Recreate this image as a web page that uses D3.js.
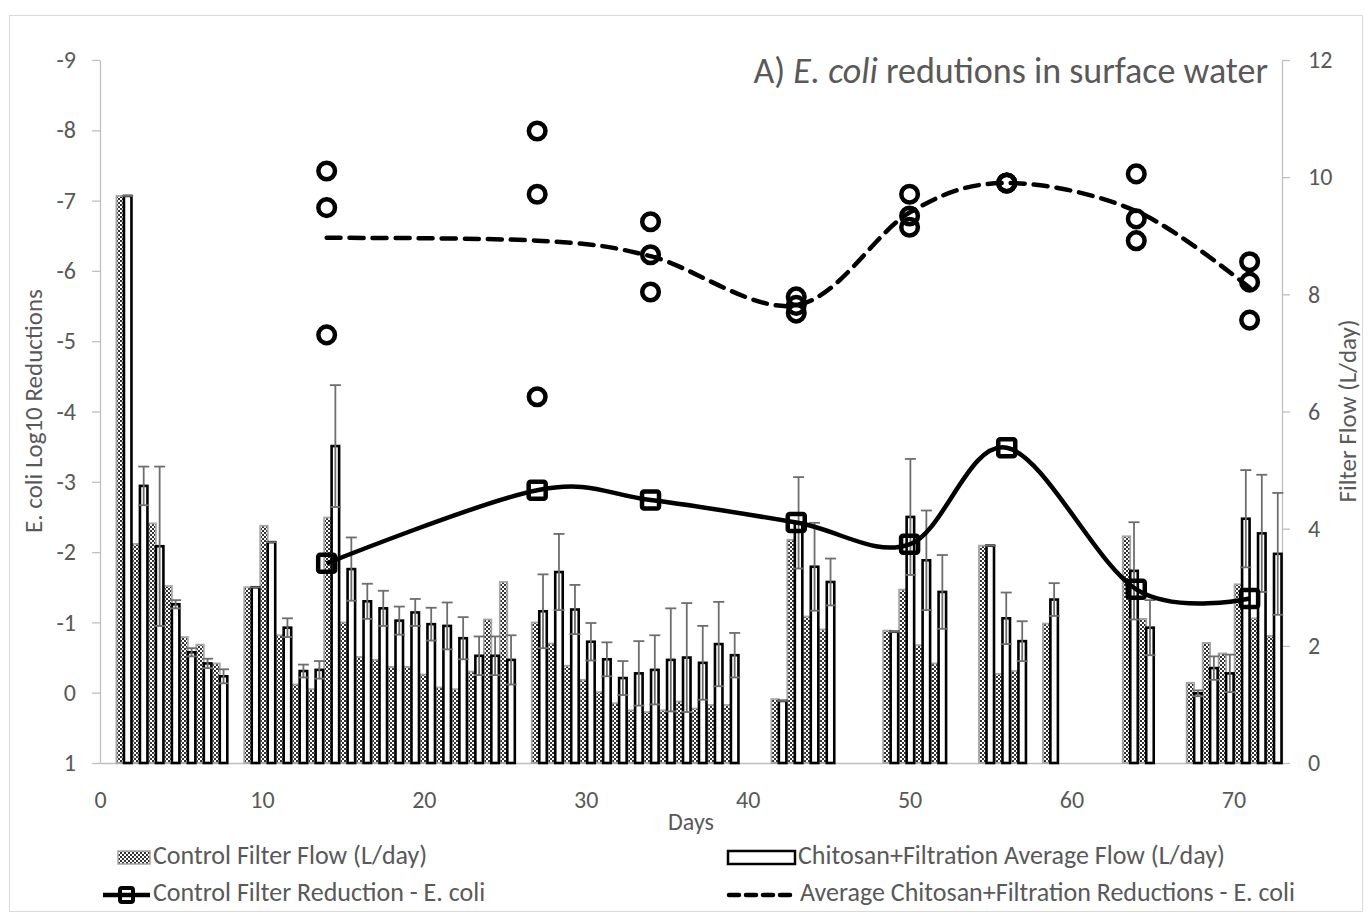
<!DOCTYPE html>
<html><head><meta charset="utf-8">
<script src="https://cdn.jsdelivr.net/npm/d3@7/dist/d3.min.js"></script>
<style>body{margin:0;background:#fff}</style>
</head><body>
<svg id="c" width="1370" height="918"></svg>
<script>
// ---------- data ----------
const barDays      = [1,2,3,4,5,6,7, 9,10,11,12,13,14,15,16,17,18,19,20,21,22,23,24,25, 27,28,29,30,31,32,33,34,35,36,37,38,39, 42,43,44,45, 49,50,51,52, 55,56,57,59, 64,65, 68,69,70,71,72,73];
const controlFlow  = [9.68,3.74,4.09,3.02,2.15,2.02,1.70, 3.00,4.05,2.18,1.34,1.26,4.19,2.40,1.81,1.76,1.64,1.64,1.51,1.29,1.26,1.56,2.45,3.09, 2.40,2.04,1.66,1.42,1.21,1.02,0.90,0.87,0.90,1.05,0.93,0.99,0.99, 1.09,3.81,2.50,2.28, 2.26,2.96,2.01,1.70, 3.71,1.52,1.57,2.38, 3.87,2.46, 1.37,2.05,1.87,3.05,2.47,2.17];
const chitosanFlow = [9.68,4.73,3.70,2.71,1.89,1.70,1.48, 3.00,3.77,2.31,1.57,1.59,5.41,3.31,2.76,2.64,2.43,2.57,2.37,2.34,2.13,1.83,1.83,1.76, 2.59,3.26,2.62,2.07,1.77,1.45,1.53,1.59,1.76,1.80,1.71,2.03,1.84, 1.06,4.10,3.35,3.09, 2.24,4.20,3.46,2.92, 3.71,2.47,2.08,2.79, 3.28,2.31, 1.19,1.62,1.53,4.17,3.92,3.57];
const chitosanErr  = [0,0.33,1.36,0.07,0.07,0.08,0.12, 0,0,0.16,0.11,0.15,1.04,0.54,0.30,0.30,0.24,0.23,0.28,0.40,0.36,0.33,0.33,0.42, 0.63,0.65,0.42,0.32,0.29,0.29,0.55,0.59,0.88,0.93,0.63,0.72,0.38, 0,0.78,0.75,0.40, 0,0.99,0.85,0.63, 0,0.44,0.34,0.28, 0.83,0.47, 0.05,0.20,0.32,0.83,1.00,1.04];

const sampleDays     = [14,27,34,43,50,56,64,71];
const controlRed     = [-1.84,-2.88,-2.74,-2.42,-2.11,-3.485,-1.47,-1.34];
const chitosanAvgRed = [-6.47,-6.43,-6.21,-5.51,-6.83,-7.25,-6.85,-5.76];
const chitosanRep1   = [-7.42,-7.99,-6.70,-5.63,-7.09,-7.25,-7.38,-6.13];
const chitosanRep2   = [-6.90,-7.09,-6.23,-5.51,-6.78,-7.25,-6.74,-5.84];
const chitosanRep3   = [-5.09,-4.21,-5.70,-5.40,-6.62,-7.25,-6.43,-5.30];

const leftTicks   = [1,0,-1,-2,-3,-4,-5,-6,-7,-8,-9];
const rightTicks  = [0,2,4,6,8,10,12];
const xTicks      = [0,10,20,30,40,50,60,70];
const legendLabels = ["Control Filter Flow (L/day)","Chitosan+Filtration Average Flow (L/day)",
                      "Control Filter Reduction - E. coli","Average Chitosan+Filtration Reductions - E. coli"];

// ---------- setup ----------
const FONT = "Carlito, Calibri, Lato, 'Open Sans', sans-serif";
const svg = d3.select("#c").style("font-family", FONT);
const L = 100, R = 1282, T = 60, B = 763;

svg.append("rect").attr("x",9.5).attr("y",15.5).attr("width",1353).attr("height",896)
   .attr("fill","#fff").attr("stroke","#d9d9d9");

const x  = d3.scaleLinear().domain([0,73]).range([L,R]);
const yL = d3.scaleLinear().domain([1,-9]).range([B,T]);
const yR = d3.scaleLinear().domain([0,12]).range([B,T]);
const band = d3.scaleBand().domain(d3.range(0,74)).range([L,R]);
const bw = band.bandwidth()*0.47;

const defs = svg.append("defs");
const pat = defs.append("pattern").attr("id","dots").attr("width",4).attr("height",4)
  .attr("patternUnits","userSpaceOnUse");
pat.append("rect").attr("width",4).attr("height",4).attr("fill","#fff");
pat.append("rect").attr("width",2).attr("height",2).attr("fill","#333");
pat.append("rect").attr("x",2).attr("y",2).attr("width",2).attr("height",2).attr("fill","#333");

// ---------- axes ----------
const axisColor = "#bfbfbf", textColor = "#595959";
function styleAxis(g){
  g.selectAll("path,line").attr("stroke",axisColor).attr("stroke-width",1.3);
  g.selectAll("text").attr("fill",textColor).style("font-family",FONT);
}
const gl = svg.append("g").attr("transform",`translate(${L},0)`)
  .call(d3.axisLeft(yL).tickValues(leftTicks).tickFormat(d=>String(d)).tickSize(8).tickSizeOuter(0).tickPadding(16));
styleAxis(gl); gl.selectAll("text").attr("font-size",24);
const gr = svg.append("g").attr("transform",`translate(${R},0)`)
  .call(d3.axisRight(yR).tickValues(rightTicks).tickFormat(d=>String(d)).tickSize(8).tickSizeOuter(0).tickPadding(18));
styleAxis(gr); gr.selectAll("text").attr("font-size",24);
const gb = svg.append("g").attr("transform",`translate(0,${B})`)
  .call(d3.axisBottom(x).tickValues(xTicks).tickFormat(d=>String(d)).tickSize(0).tickSizeOuter(0).tickPadding(28));
styleAxis(gb); gb.selectAll("text").attr("font-size",24);

svg.append("text").attr("x",(L+R)/2).attr("y",824).attr("text-anchor","middle")
  .attr("dominant-baseline","middle").attr("font-size",24).attr("fill",textColor).text("Days");
svg.append("text").attr("transform","translate(36,411) rotate(-90)").attr("text-anchor","middle")
  .attr("dominant-baseline","middle").attr("font-size",25).attr("fill",textColor).text("E. coli Log10 Reductions");
svg.append("text").attr("transform","translate(1350,411) rotate(-90)").attr("text-anchor","middle")
  .attr("dominant-baseline","middle").attr("font-size",25).attr("fill",textColor).text("Filter Flow (L/day)");

// ---------- bars ----------
const bars = barDays.map((d,i)=>({d, c:controlFlow[i], f:chitosanFlow[i], e:chitosanErr[i]}));
const mid = d => band(d) + band.bandwidth()/2;
svg.append("g").selectAll("rect").data(bars).join("rect")
  .attr("x",b=>mid(b.d)-bw).attr("y",b=>yR(b.c)).attr("width",bw).attr("height",b=>yR(0)-yR(b.c))
  .attr("fill","url(#dots)").attr("stroke","#a6a6a6").attr("stroke-width",1.8);
svg.append("g").selectAll("rect").data(bars).join("rect")
  .attr("x",b=>mid(b.d)).attr("y",b=>yR(b.f)).attr("width",bw).attr("height",b=>yR(0)-yR(b.f))
  .attr("fill","#fff").attr("stroke","#000").attr("stroke-width",2.6);
const eg = svg.append("g").attr("stroke","#6e6e6e").attr("stroke-width",1.8);
bars.forEach(b=>{
  const cx = mid(b.d)+bw/2;
  if (b.e>0){
    eg.append("line").attr("x1",cx).attr("x2",cx).attr("y1",yR(b.f+b.e)).attr("y2",yR(b.f-b.e));
    eg.append("line").attr("x1",cx-5.5).attr("x2",cx+5.5).attr("y1",yR(b.f-b.e)).attr("y2",yR(b.f-b.e));
  }
  eg.append("line").attr("x1",cx-5.5).attr("x2",cx+5.5).attr("y1",yR(b.f+b.e)).attr("y2",yR(b.f+b.e));
});

// ---------- lines ----------
const curve = d3.curveCardinal.tension(0);
const ctrl = sampleDays.map((d,i)=>[x(d), yL(controlRed[i])]);
const avg  = sampleDays.map((d,i)=>[x(d), yL(chitosanAvgRed[i])]);
svg.append("path").attr("d",d3.line().curve(curve)(avg)).attr("fill","none")
  .attr("stroke","#000").attr("stroke-width",4.5).attr("stroke-dasharray","14,9").attr("stroke-linecap","round");
svg.append("path").attr("d",d3.line().curve(curve)(ctrl)).attr("fill","none")
  .attr("stroke","#000").attr("stroke-width",4.5);
svg.append("g").selectAll("rect").data(ctrl).join("rect")
  .attr("x",p=>p[0]-8.5).attr("y",p=>p[1]-8.5).attr("width",17).attr("height",17).attr("rx",2)
  .attr("fill","none").attr("stroke","#000").attr("stroke-width",4.5);
const reps = [];
sampleDays.forEach((d,i)=>{ [chitosanRep1[i],chitosanRep2[i],chitosanRep3[i]].forEach(v=>reps.push([x(d),yL(v)])); });
svg.append("g").selectAll("circle").data(reps).join("circle")
  .attr("cx",p=>p[0]).attr("cy",p=>p[1]).attr("r",8.3)
  .attr("fill","none").attr("stroke","#000").attr("stroke-width",4.5);

// ---------- title ----------
const title = svg.append("text").attr("x",1268).attr("y",74).attr("text-anchor","end")
  .attr("dominant-baseline","middle").attr("font-size",36).attr("fill",textColor);
title.append("tspan").text("A) ");
title.append("tspan").attr("font-style","italic").text("E. coli");
title.append("tspan").text(" redutions in surface water");

// ---------- legend ----------
const lg = svg.append("g").attr("font-size",26).attr("fill",textColor);
lg.append("rect").attr("x",118).attr("y",851).attr("width",32).attr("height",13)
  .attr("fill","url(#dots)").attr("stroke","#a6a6a6").attr("stroke-width",1.5);
lg.append("rect").attr("x",728).attr("y",851).attr("width",67).attr("height",13)
  .attr("fill","#fff").attr("stroke","#000").attr("stroke-width",2.5);
lg.append("line").attr("x1",103).attr("x2",150).attr("y1",895).attr("y2",895)
  .attr("stroke","#000").attr("stroke-width",4.5);
lg.append("rect").attr("x",120).attr("y",888).attr("width",13).attr("height",14).attr("rx",2)
  .attr("fill","none").attr("stroke","#000").attr("stroke-width",4);
lg.append("line").attr("x1",729).attr("x2",795).attr("y1",895).attr("y2",895)
  .attr("stroke","#000").attr("stroke-width",4.5).attr("stroke-dasharray","10,7").attr("stroke-linecap","round");
const lpos = [[153,858],[798,858],[153,895],[800,895]];
legendLabels.forEach((t,i)=>{
  lg.append("text").attr("x",lpos[i][0]).attr("y",lpos[i][1]).attr("dominant-baseline","middle").text(t);
});
</script>
</body></html>
